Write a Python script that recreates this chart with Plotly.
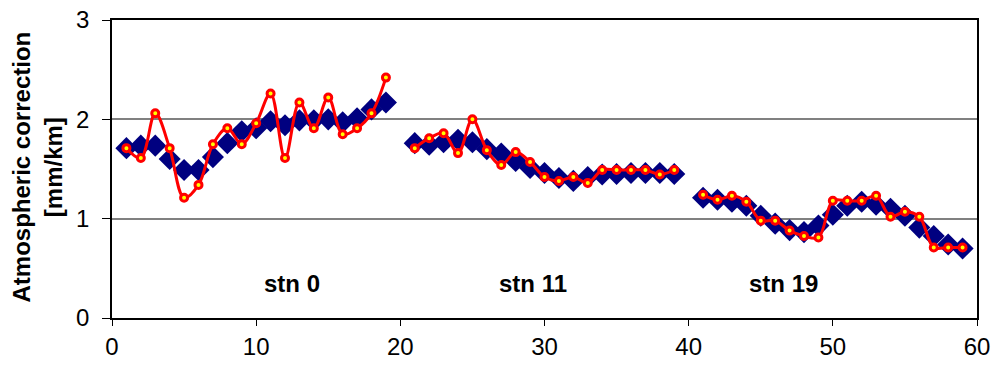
import plotly.graph_objects as go

x_vals = list(range(1, 20)) + [20] + list(range(21, 40)) + [40] + list(range(41, 60))

diamond_vals = [1.71, 1.735, 1.735, 1.60, 1.49, 1.49, 1.62, 1.76, 1.88, 1.91,
                1.98, 1.94, 1.99, 1.99, 2.00, 1.97, 2.01, 2.10, 2.17,
                None,
                1.76, 1.745, 1.77, 1.795, 1.77, 1.70, 1.655, 1.58, 1.51, 1.46,
                1.41, 1.38, 1.42, 1.445, 1.45, 1.46, 1.46, 1.46, 1.45,
                None,
                1.21, 1.19, 1.17, 1.13, 1.03, 0.95, 0.885, 0.865, 0.93, 1.04,
                1.13, 1.17, 1.14, 1.10, 1.03, 0.91, 0.825, 0.74, 0.70]

circle_vals = [1.71, 1.61, 2.06, 1.71, 1.21, 1.34, 1.75, 1.91, 1.75, 1.96,
               2.26, 1.61, 2.17, 1.91, 2.22, 1.85, 1.91, 2.06, 2.42,
               None,
               1.71, 1.81, 1.86, 1.66, 2.00, 1.69, 1.54, 1.67, 1.57, 1.42,
               1.38, 1.42, 1.36, 1.49, 1.49, 1.49, 1.49, 1.445, 1.49,
               None,
               1.24, 1.19, 1.23, 1.17, 0.98, 0.98, 0.88, 0.825, 0.81, 1.18,
               1.18, 1.18, 1.23, 1.02, 1.07, 1.02, 0.71, 0.71, 0.71]

station_labels = ["stn 0", "stn 11", "stn 19"]
station_x = [12.5, 29.2, 46.6]
station_y = [0.35, 0.35, 0.35]

x_ticks = [0, 10, 20, 30, 40, 50, 60]
y_ticks = [0, 1, 2, 3]

FONT = "Liberation Sans, Arial, sans-serif"

fig = go.Figure()

fig.add_trace(go.Scatter(
    x=x_vals, y=diamond_vals, mode="markers",
    marker=dict(symbol="diamond", size=17, color="#000080",
                line=dict(width=0)),
    showlegend=False, hoverinfo="x+y",
))

fig.add_trace(go.Scatter(
    x=x_vals, y=circle_vals, mode="lines+markers",
    line=dict(color="#FF0000", width=3, shape="spline", smoothing=1),
    marker=dict(symbol="circle", size=7, color="#FFFF00",
                line=dict(color="#FF0000", width=3)),
    connectgaps=False, showlegend=False, hoverinfo="x+y",
))

for lab, lx, ly in zip(station_labels, station_x, station_y):
    fig.add_annotation(x=lx, y=ly, text="<b>%s</b>" % lab, showarrow=False,
                       font=dict(family=FONT, size=24, color="black"),
                       xanchor="center", yanchor="middle")

# plot area: 112..977 px wide (865), 20..318 px tall
fig.add_annotation(
    xref="paper", yref="paper", x=(37 - 112) / 865, y=0.505,
    text="<b>Atmospheric correction<br>[mm/km]</b>", showarrow=False,
    textangle=-90, xanchor="center", yanchor="middle",
    font=dict(family=FONT, size=24, color="black"),
)

fig.update_layout(
    width=998, height=369,
    margin=dict(l=112, r=21, t=20, b=51, autoexpand=False),
    paper_bgcolor="white", plot_bgcolor="white",
    font=dict(family=FONT, size=24, color="black"),
)

fig.update_xaxes(
    range=[0, 60], tickvals=x_ticks, ticktext=[str(v) for v in x_ticks],
    showgrid=False, zeroline=False,
    showline=True, linecolor="black", linewidth=1.5, mirror=True,
    ticks="outside", ticklen=6, tickcolor="black",
    tickfont=dict(family=FONT, size=24), ticklabeloverflow="allow",
)

fig.update_yaxes(
    range=[0, 3], tickvals=y_ticks, ticktext=[str(v) for v in y_ticks],
    showgrid=True, gridcolor="#808080", gridwidth=1.5, zeroline=False,
    showline=True, linecolor="black", linewidth=1.5, mirror=True,
    ticks="outside", ticklen=8, tickcolor="black",
    tickfont=dict(family=FONT, size=24), ticklabeloverflow="allow",
    ticklabelstandoff=8,
)

fig.write_html(
    "out.html",
    config={"displayModeBar": False},
    post_script="document.body.style.margin='0';document.body.style.overflow='hidden';",
)
